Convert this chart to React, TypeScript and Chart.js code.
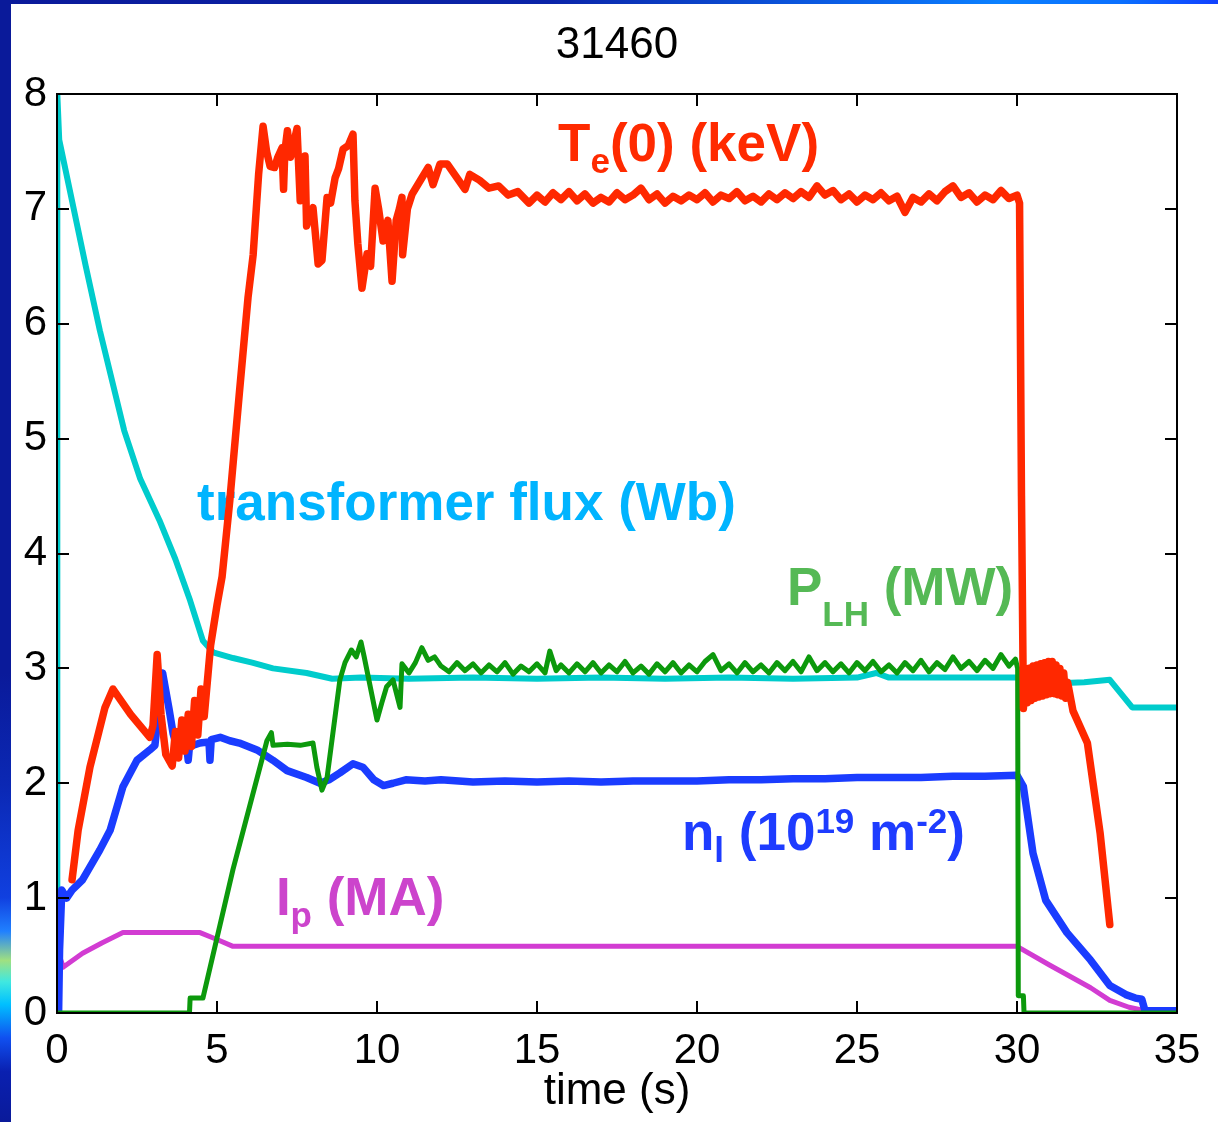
import React, { useEffect, useRef } from "react";
import { Chart, registerables } from "chart.js";

Chart.register(...registerables);

const W = 1218;
const H = 1122;
const FONT = '"Liberation Sans", Arial, Helvetica, sans-serif';

const titleText = "31460";
const xAxisTitle = "time (s)";
const xRange = [0, 35];
const yRange = [0, 8];
const xStep = 5;
const yStep = 1;

// [time (s), value]
const teData: number[][] = [
  [0.47, 1.16], [0.66, 1.59], [1.03, 2.14], [1.5, 2.66], [1.75, 2.82], [2.0, 2.72], [2.3, 2.6], [2.6, 2.5],
  [2.9, 2.4], [3.0, 2.5], [3.13, 3.12], [3.25, 2.6], [3.4, 2.25], [3.6, 2.15], [3.7, 2.45], [3.8, 2.22],
  [3.9, 2.55], [4.0, 2.28], [4.1, 2.6], [4.2, 2.32], [4.3, 2.72], [4.4, 2.42], [4.5, 2.82], [4.6, 2.58],
  [4.8, 3.2], [5.0, 3.55], [5.16, 3.8], [5.4, 4.46], [5.7, 5.4], [5.97, 6.23], [6.13, 6.6], [6.3, 7.3],
  [6.44, 7.72], [6.55, 7.5], [6.66, 7.37], [6.8, 7.36], [6.9, 7.45], [7.03, 7.53], [7.08, 7.17], [7.12, 7.5],
  [7.2, 7.68], [7.3, 7.45], [7.5, 7.7], [7.6, 7.07], [7.68, 7.3], [7.75, 7.46], [7.8, 6.85], [7.9, 6.95],
  [8.0, 7.01], [8.16, 6.52], [8.28, 6.55], [8.44, 7.1], [8.55, 7.05], [8.69, 7.27], [8.8, 7.35], [8.94, 7.52],
  [9.1, 7.55], [9.25, 7.65], [9.31, 7.07], [9.4, 6.7], [9.53, 6.31], [9.69, 6.61], [9.8, 6.5], [9.94, 7.18],
  [10.05, 7.0], [10.19, 6.72], [10.34, 6.9], [10.47, 6.37], [10.6, 6.9], [10.7, 7.0], [10.78, 7.1], [10.8, 6.6],
  [10.95, 7.0], [11.1, 7.13], [11.34, 7.24], [11.6, 7.36], [11.75, 7.21], [11.97, 7.39], [12.2, 7.39], [12.5, 7.27],
  [12.75, 7.17], [12.9, 7.3], [13.2, 7.25], [13.5, 7.18], [13.8, 7.2], [14.1, 7.12], [14.4, 7.15], [14.75, 7.05],
  [15.0, 7.12], [15.25, 7.06], [15.5, 7.14], [15.75, 7.08], [16.0, 7.15], [16.25, 7.07], [16.5, 7.13], [16.75, 7.05],
  [17.0, 7.1], [17.25, 7.06], [17.5, 7.14], [17.75, 7.08], [18.0, 7.12], [18.25, 7.18], [18.5, 7.08], [18.75, 7.13],
  [19.0, 7.05], [19.25, 7.11], [19.5, 7.07], [19.75, 7.12], [20.0, 7.08], [20.25, 7.14], [20.5, 7.06], [20.75, 7.12],
  [21.0, 7.09], [21.25, 7.15], [21.5, 7.07], [21.75, 7.11], [22.0, 7.06], [22.25, 7.13], [22.5, 7.08], [22.75, 7.14],
  [23.0, 7.09], [23.25, 7.15], [23.5, 7.1], [23.75, 7.2], [24.0, 7.12], [24.25, 7.16], [24.5, 7.08], [24.75, 7.13],
  [25.0, 7.06], [25.25, 7.12], [25.5, 7.08], [25.75, 7.14], [26.0, 7.07], [26.25, 7.11], [26.5, 6.97], [26.75, 7.1],
  [27.0, 7.06], [27.25, 7.13], [27.5, 7.07], [27.75, 7.15], [28.0, 7.2], [28.25, 7.1], [28.5, 7.14], [28.75, 7.06],
  [29.0, 7.12], [29.25, 7.08], [29.5, 7.16], [29.75, 7.09], [30.0, 7.12], [30.08, 7.05], [30.14, 4.5], [30.2, 2.65],
  [30.26, 2.98], [30.32, 2.7], [30.38, 3.0], [30.44, 2.72], [30.5, 3.02], [30.56, 2.74], [30.62, 3.03], [30.68, 2.75],
  [30.74, 3.04], [30.8, 2.76], [30.86, 3.05], [30.92, 2.77], [30.98, 3.06], [31.04, 2.78], [31.1, 3.06], [31.16, 2.78],
  [31.22, 3.03], [31.28, 2.77], [31.34, 3.0], [31.4, 2.76], [31.46, 2.96], [31.52, 2.74], [31.58, 2.88], [31.75, 2.63],
  [32.2, 2.35], [32.6, 1.56], [32.9, 0.77],
];

const fluxData: number[][] = [
  [0, 0], [0.01, 8.0], [0.07, 7.6], [0.47, 7.07], [0.9, 6.5], [1.34, 5.94], [2.1, 5.07], [2.6, 4.65],
  [3.2, 4.29], [3.7, 3.95], [4.16, 3.59], [4.56, 3.24], [4.88, 3.14], [5.5, 3.09], [6.1, 3.05], [6.75, 3.0],
  [7.8, 2.96], [8.6, 2.91], [9.5, 2.92], [11, 2.91], [13, 2.92], [15, 2.91], [17, 2.92], [19, 2.91],
  [21, 2.92], [23, 2.91], [25, 2.92], [25.6, 2.96], [26.0, 2.92], [28, 2.92], [30.1, 2.92], [30.7, 2.85],
  [31.3, 2.87], [32.1, 2.88], [32.9, 2.9], [33.6, 2.66], [35, 2.66],
];

const plhData: number[][] = [
  [0, 0], [4.14, 0], [4.16, 0.13], [4.56, 0.13], [5.5, 1.25], [6.56, 2.37], [6.7, 2.44], [6.75, 2.33],
  [7.2, 2.34], [7.6, 2.33], [8.0, 2.35], [8.12, 2.14], [8.28, 1.94], [8.44, 2.05], [8.84, 2.9], [9.0, 3.05],
  [9.2, 3.16], [9.35, 3.1], [9.5, 3.23], [9.6, 3.1], [10.0, 2.55], [10.15, 2.7], [10.3, 2.84], [10.5, 2.9],
  [10.72, 2.66], [10.78, 3.04], [11.0, 2.96], [11.2, 3.05], [11.4, 3.18], [11.6, 3.07], [11.8, 3.1], [12.0, 3.02],
  [12.25, 2.97], [12.5, 3.05], [12.75, 2.98], [13.0, 3.04], [13.25, 2.96], [13.5, 3.03], [13.75, 2.97], [14.0, 3.05],
  [14.25, 2.95], [14.5, 3.02], [14.75, 2.97], [15.0, 3.04], [15.25, 2.96], [15.4, 3.15], [15.6, 2.98], [15.75, 3.03],
  [16.0, 2.96], [16.25, 3.04], [16.5, 2.97], [16.75, 3.05], [17.0, 2.96], [17.25, 3.03], [17.5, 2.97], [17.75, 3.06],
  [18.0, 2.96], [18.25, 3.02], [18.5, 2.95], [18.75, 3.04], [19.0, 2.97], [19.25, 3.05], [19.5, 2.96], [19.75, 3.03],
  [20.0, 2.97], [20.25, 3.06], [20.5, 3.12], [20.75, 2.98], [21.0, 3.04], [21.25, 2.96], [21.5, 3.05], [21.75, 2.97],
  [22.0, 3.03], [22.25, 2.96], [22.5, 3.05], [22.75, 2.98], [23.0, 3.06], [23.25, 2.97], [23.5, 3.1], [23.75, 2.98],
  [24.0, 3.05], [24.25, 2.97], [24.5, 3.04], [24.75, 2.96], [25.0, 3.05], [25.25, 2.98], [25.5, 3.06], [25.75, 2.97],
  [26.0, 3.03], [26.25, 2.96], [26.5, 3.05], [26.75, 2.98], [27.0, 3.07], [27.25, 2.97], [27.5, 3.05], [27.75, 2.99],
  [28.0, 3.1], [28.25, 3.0], [28.5, 3.06], [28.75, 2.98], [29.0, 3.07], [29.25, 3.0], [29.5, 3.12], [29.75, 3.02],
  [29.95, 3.08], [30.02, 3.0], [30.04, 0.15], [30.2, 0.15], [30.22, 0], [35, 0],
];

const nlData: number[][] = [
  [0.05, 0], [0.08, 0.55], [0.15, 1.07], [0.3, 1.0], [0.47, 1.07], [0.8, 1.16], [1.34, 1.42], [1.66, 1.59],
  [2.06, 1.97], [2.5, 2.2], [2.9, 2.29], [3.06, 2.33], [3.3, 2.96], [3.5, 2.65], [3.63, 2.43], [3.75, 2.31],
  [4.06, 2.31], [4.1, 2.2], [4.14, 2.32], [4.47, 2.35], [4.75, 2.36], [4.78, 2.2], [4.82, 2.38], [5.1, 2.4],
  [5.4, 2.37], [5.7, 2.35], [6.25, 2.29], [6.75, 2.2], [7.19, 2.11], [7.8, 2.05], [8.22, 2.0], [8.5, 2.03],
  [8.84, 2.09], [9.25, 2.17], [9.56, 2.14], [9.9, 2.03], [10.2, 1.98], [10.5, 2.0], [10.9, 2.03], [11.5, 2.02],
  [12, 2.03], [13, 2.01], [14, 2.02], [15, 2.01], [16, 2.02], [17, 2.01], [18, 2.02], [19, 2.02],
  [20, 2.02], [21, 2.03], [22, 2.03], [23, 2.04], [24, 2.04], [25, 2.05], [26, 2.05], [27, 2.05],
  [28, 2.06], [29, 2.06], [30.0, 2.07], [30.2, 1.97], [30.5, 1.39], [30.9, 0.98], [31.56, 0.7], [32.3, 0.46],
  [32.9, 0.24], [33.4, 0.16], [33.7, 0.13], [33.9, 0.12], [34.0, 0.02], [35, 0.02],
];

const ipData: number[][] = [
  [0.03, 0], [0.08, 0.49], [0.2, 0.4], [0.8, 0.52], [1.4, 0.61], [2.06, 0.7], [4.47, 0.7], [5.0, 0.64],
  [5.5, 0.58], [30.0, 0.58], [31, 0.42], [32.3, 0.22], [32.9, 0.11], [33.5, 0.05], [34.0, 0.02], [35, 0.0],
];

type Seg = { text: string; size: number; dy: number };
type Label = { x: number; y: number; color: string; segs: Seg[] };

const labels: Label[] = [
  { x: 15.66, y: 7.42, color: "#ff2a00", segs: [
    { text: "T", size: 53, dy: 0 }, { text: "e", size: 35, dy: 12 }, { text: "(0) (keV)", size: 53, dy: 0 }] },
  { x: 4.375, y: 4.29, color: "#00b4ff", segs: [{ text: "transformer flux (Wb)", size: 53, dy: 0 }] },
  { x: 22.81, y: 3.55, color: "#55b955", segs: [
    { text: "P", size: 53, dy: 0 }, { text: "LH", size: 35, dy: 21 }, { text: " (MW)", size: 53, dy: 0 }] },
  { x: 19.53, y: 1.417, color: "#1e3cff", segs: [
    { text: "n", size: 53, dy: 0 }, { text: "l", size: 35, dy: 12 }, { text: " (10", size: 53, dy: 0 },
    { text: "19", size: 35, dy: -17 }, { text: " m", size: 53, dy: 0 }, { text: "-2", size: 35, dy: -17 },
    { text: ")", size: 53, dy: 0 }] },
  { x: 6.84, y: 0.85, color: "#cc44cc", segs: [
    { text: "I", size: 53, dy: 0 }, { text: "p", size: 35, dy: 12 }, { text: " (MA)", size: 53, dy: 0 }] },
];

const toPts = (d: number[][]) => d.map(([x, y]) => ({ x, y }));

const decorPlugin = {
  id: "decor",
  beforeDraw(chart: any) {
    const ctx = chart.ctx;
    ctx.save();
    ctx.fillStyle = "#ffffff";
    ctx.fillRect(0, 0, W, H);
    const tg = ctx.createLinearGradient(0, 0, W, 0);
    tg.addColorStop(0, "#0a1a9a");
    tg.addColorStop(0.45, "#0a24a8");
    tg.addColorStop(0.7, "#0a60e8");
    tg.addColorStop(0.82, "#0a80ff");
    tg.addColorStop(0.92, "#0a70ff");
    tg.addColorStop(1, "#1040ff");
    ctx.fillStyle = tg;
    ctx.fillRect(0, 0, W, 4);
    const lg = ctx.createLinearGradient(0, 0, 0, H);
    lg.addColorStop(0, "#0a1a9a");
    lg.addColorStop(0.6, "#0a1a9a");
    lg.addColorStop(0.7, "#0b28b4");
    lg.addColorStop(0.8, "#1040e0");
    lg.addColorStop(0.83, "#2080ff");
    lg.addColorStop(0.856, "#a0e080");
    lg.addColorStop(0.875, "#40e8e0");
    lg.addColorStop(0.895, "#00c0ff");
    lg.addColorStop(0.925, "#1050f0");
    lg.addColorStop(0.955, "#0a20b0");
    lg.addColorStop(1, "#0a1a9a");
    ctx.fillStyle = lg;
    ctx.fillRect(0, 0, 11, H);
    ctx.restore();
  },
  beforeDatasetsDraw(chart: any) {
    const ctx = chart.ctx;
    const xs = chart.scales.x;
    const ys = chart.scales.y;
    ctx.save();
    ctx.textAlign = "left";
    ctx.textBaseline = "alphabetic";
    for (const lab of labels) {
      let cx = xs.getPixelForValue(lab.x);
      const by = ys.getPixelForValue(lab.y);
      ctx.fillStyle = lab.color;
      for (const s of lab.segs) {
        ctx.font = `bold ${s.size}px ${FONT}`;
        ctx.fillText(s.text, cx, by + s.dy);
        cx += ctx.measureText(s.text).width;
      }
    }
    ctx.restore();
  },
  afterDatasetsDraw(chart: any) {
    const ctx = chart.ctx;
    const { left, right, top, bottom } = chart.chartArea;
    const xs = chart.scales.x;
    const ys = chart.scales.y;
    ctx.save();
    ctx.strokeStyle = "#000";
    ctx.lineWidth = 2;
    ctx.strokeRect(left, top, right - left, bottom - top);
    ctx.beginPath();
    for (let v = xRange[0]; v <= xRange[1]; v += xStep) {
      const px = Math.round(xs.getPixelForValue(v));
      ctx.moveTo(px, bottom);
      ctx.lineTo(px, bottom - 12);
      ctx.moveTo(px, top);
      ctx.lineTo(px, top + 12);
    }
    for (let v = yRange[0]; v <= yRange[1]; v += yStep) {
      const py = Math.round(ys.getPixelForValue(v));
      ctx.moveTo(left, py);
      ctx.lineTo(left + 12, py);
      ctx.moveTo(right, py);
      ctx.lineTo(right - 12, py);
    }
    ctx.stroke();
    ctx.restore();
  },
  afterDraw(chart: any) {
    const ctx = chart.ctx;
    const { left, right } = chart.chartArea;
    const cx = (left + right) / 2;
    ctx.save();
    ctx.fillStyle = "#000";
    ctx.textAlign = "center";
    ctx.textBaseline = "alphabetic";
    ctx.font = `44px ${FONT}`;
    ctx.fillText(titleText, cx, 58);
    ctx.font = `44px ${FONT}`;
    ctx.fillText(xAxisTitle, cx, 1104);
    ctx.restore();
  },
};

export default function App() {
  const ref = useRef<HTMLCanvasElement | null>(null);
  useEffect(() => {
    if (!ref.current) return;
    const mk = (data: number[][], color: string, width: number) => ({
      data: toPts(data),
      borderColor: color,
      backgroundColor: color,
      borderWidth: width,
      showLine: true,
      pointRadius: 0,
      tension: 0,
      borderJoinStyle: "round" as const,
      borderCapStyle: "round" as const,
      fill: false,
    });
    const chart = new Chart(ref.current, {
      type: "scatter",
      data: {
        datasets: [
          mk(teData, "#ff2800", 7.5),
          mk(plhData, "#0c990c", 5),
          mk(nlData, "#1a3cff", 7.5),
          mk(fluxData, "#00cccc", 6),
          mk(ipData, "#d23cd2", 5),
        ],
      },
      options: {
        animation: false,
        responsive: false,
        devicePixelRatio: 1,
        events: [],
        layout: { padding: { left: 12, right: 41, top: 94, bottom: 0 } },
        plugins: { legend: { display: false }, tooltip: { enabled: false }, title: { display: false } },
        scales: {
          x: {
            type: "linear",
            min: xRange[0],
            max: xRange[1],
            grid: { display: false, drawTicks: false },
            border: { display: false },
            ticks: { stepSize: xStep, color: "#000", font: { size: 42, family: FONT }, padding: 13, maxRotation: 0, autoSkip: false },
            afterFit: (s: any) => { s.height = 109; },
          },
          y: {
            type: "linear",
            min: yRange[0],
            max: yRange[1],
            grid: { display: false, drawTicks: false },
            border: { display: false },
            ticks: { stepSize: yStep, color: "#000", font: { size: 42, family: FONT }, padding: 10 },
            afterFit: (s: any) => { s.width = 45; },
          },
        },
      },
      plugins: [decorPlugin],
    });
    return () => chart.destroy();
  }, []);
  return (
    <div style={{ position: "fixed", left: 0, top: 0, width: W, height: H, background: "#fff" }}>
      <canvas ref={ref} width={W} height={H} style={{ display: "block", width: W, height: H }} />
    </div>
  );
}
